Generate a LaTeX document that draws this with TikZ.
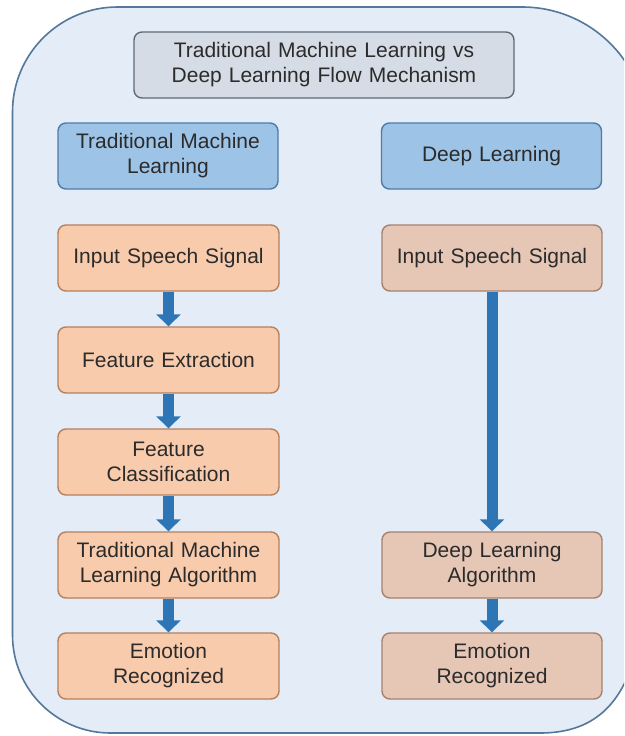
\documentclass[tikz,border=0pt]{standalone}
\usepackage{fontspec}
\setmainfont{Liberation Sans}
\usetikzlibrary{arrows.meta}
\definecolor{bgfill}{HTML}{E3ECF7}
\definecolor{bgdraw}{HTML}{55779A}
\definecolor{titlefill}{HTML}{D6DCE5}
\definecolor{titledraw}{HTML}{5F6B78}
\definecolor{headfill}{HTML}{9DC3E6}
\definecolor{headdraw}{HTML}{4F7CA6}
\definecolor{orfill}{HTML}{F8CBAD}
\definecolor{ordraw}{HTML}{B5805D}
\definecolor{pkfill}{HTML}{E6C7B6}
\definecolor{pkdraw}{HTML}{A58270}
\definecolor{arrblue}{HTML}{2E75B6}
\definecolor{txt}{HTML}{2B2B2B}
\tikzset{
  box/.style={rectangle, rounded corners=8pt, line width=1.4pt, align=center,
    text=txt, font=\fontsize{21pt}{25pt}\selectfont, inner sep=0pt,
    minimum height=66pt, text width=215pt},
  titlebox/.style={box, fill=titlefill, draw=titledraw, minimum width=380pt, text width=370pt},
  headbox/.style={box, fill=headfill, draw=headdraw, minimum width=220pt},
  orbox/.style={box, fill=orfill, draw=ordraw, minimum width=221pt},
  pkbox/.style={box, fill=pkfill, draw=pkdraw, minimum width=220pt},
  arr/.style={draw=arrblue, line width=11pt, -{Triangle[width=24pt,length=12pt]}, shorten <=0pt}
}
\begin{document}
\begin{tikzpicture}[x=1pt,y=-1pt]
\useasboundingbox (0,0) rectangle (624,736);
\begin{scope}
\clip (0,0) rectangle (624,736);
\draw[fill=bgfill, draw=bgdraw, line width=1.6pt]
  (12.5,112) arc[start angle=180, end angle=270, radius=105]
  -- (522,7) arc[start angle=270, end angle=360, radius=125]
  -- (647,540) .. controls (647,670) and (620,733) .. (540,733)
  -- (110.5,733) arc[start angle=90, end angle=180, radius=98]
  -- cycle;
\end{scope}
\node[titlebox] (title) at (324,65) {Traditional Machine Learning vs\\Deep Learning Flow Mechanism};
\node[headbox] (hl) at (168,156) {Traditional Machine\\Learning};
\node[headbox] (hr) at (491.5,156) {Deep Learning};
\node[orbox] (l1) at (168.5,258) {Input Speech Signal};
\node[orbox] (l2) at (168.5,360) {Feature Extraction};
\node[orbox] (l3) at (168.5,462) {Feature\\Classification};
\node[orbox] (l4) at (168.5,565) {Traditional Machine\\Learning Algorithm};
\node[orbox] (l5) at (168.5,666) {Emotion\\Recognized};
\node[pkbox] (r1) at (492,258) {Input Speech Signal};
\node[pkbox] (r2) at (492,565) {Deep Learning\\Algorithm};
\node[pkbox] (r3) at (492,666) {Emotion\\Recognized};
\draw[arr] (l1) -- (l2);
\draw[arr] (l2) -- (l3);
\draw[arr] (l3) -- (l4);
\draw[arr] (l4) -- (l5);
\draw[arr] (r1) -- (r2);
\draw[arr] (r2) -- (r3);
\end{tikzpicture}
\end{document}
